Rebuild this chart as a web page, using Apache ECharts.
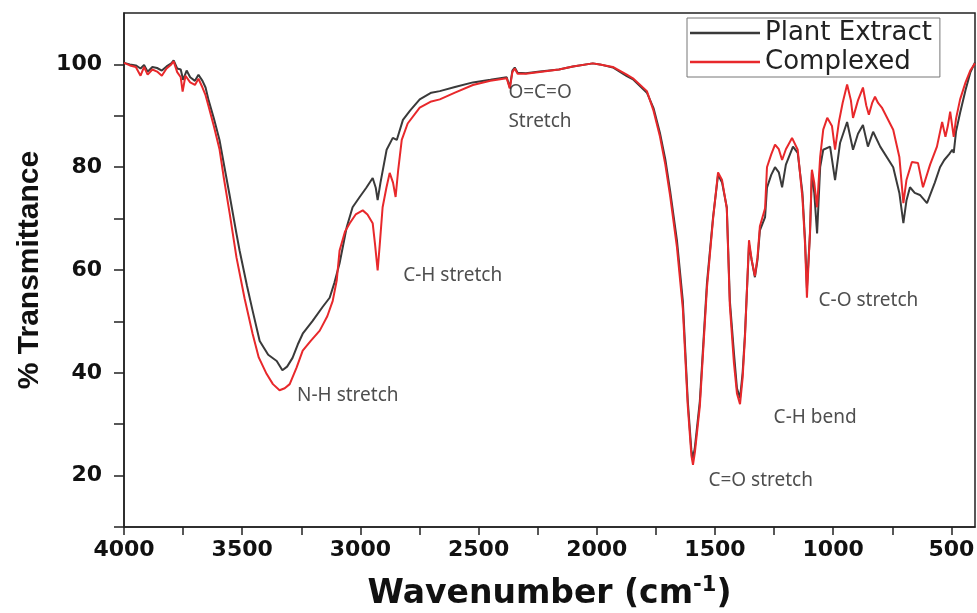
<!DOCTYPE html>
<html>
<head>
<meta charset="utf-8">
<script src="https://cdn.jsdelivr.net/npm/echarts@6/dist/echarts.min.js"></script>
<style>
  html, body { margin: 0; padding: 0; background: #fff; }
  #FtirChart { width: 977px; height: 613px; }
</style>
</head>
<body>
<div id="FtirChart"></div>
<script>
// Plant Extract (black trace)
const plantWn = [4000, 3975, 3950, 3930, 3915, 3900, 3880, 3860, 3840, 3820, 3800, 3790, 3775, 3760, 3750, 3735, 3720, 3700, 3685, 3668,
  3655, 3642, 3620, 3596, 3575, 3553, 3524, 3511, 3480, 3456, 3426, 3390, 3354, 3330, 3310, 3287, 3265, 3244, 3202, 3160,
  3130, 3110, 3088, 3070, 3058, 3033, 3003, 2975, 2948, 2935, 2927, 2915, 2889, 2863, 2846, 2820, 2790, 2749, 2700, 2664,
  2600, 2524, 2450, 2381, 2368, 2357, 2347, 2335, 2300, 2241, 2160, 2101, 2017, 1987, 1932, 1873, 1847, 1788, 1760, 1733,
  1710, 1690, 1661, 1636, 1615, 1600, 1593, 1585, 1564, 1534, 1508, 1487, 1470, 1450, 1437, 1420, 1407, 1394, 1383, 1373,
  1356, 1345, 1331, 1320, 1310, 1288, 1280, 1262, 1246, 1230, 1216, 1200, 1170, 1150, 1130, 1119, 1111, 1098, 1090, 1080,
  1068, 1055, 1042, 1013, 992, 971, 941, 916, 895, 874, 853, 831, 801, 746, 720, 703, 690, 675, 655, 633,
  603, 570, 548, 530, 510, 496, 490, 480, 463, 440, 420, 400];
const plantT = [100.3, 100.0, 99.8, 99.2, 99.9, 98.6, 99.5, 99.3, 98.8, 99.6, 100.2, 100.8, 99.2, 99.0, 97.0, 98.8, 97.5, 96.8, 98.0, 96.8,
  95.5, 93.0, 89.5, 85.3, 80.0, 74.5, 67.0, 63.8, 57.0, 52.1, 46.2, 43.5, 42.3, 40.5, 41.2, 42.9, 45.5, 47.6, 50.1, 52.8,
  54.6, 57.5, 61.3, 65.5, 68.3, 72.2, 74.2, 76.0, 77.9, 76.0, 73.6, 77.0, 83.4, 85.7, 85.3, 89.2, 91.0, 93.2, 94.5, 94.8,
  95.6, 96.5, 97.0, 97.5, 95.5, 98.8, 99.4, 98.4, 98.3, 98.6, 99.0, 99.6, 100.2, 100.0, 99.4, 97.7, 97.1, 94.5, 91.5, 86.7,
  81.5, 75.5, 65.8, 54.0, 34.5, 25.0, 23.4, 25.5, 34.5, 57.4, 70.3, 78.5, 77.0, 72.2, 54.0, 44.0, 37.0, 35.1, 40.0, 47.6,
  65.0, 62.0, 58.6, 62.0, 67.7, 70.3, 76.0, 78.5, 80.0, 79.0, 76.1, 80.5, 84.0, 82.8, 75.0, 65.8, 56.5, 67.1, 79.0, 75.0,
  67.1, 80.0, 83.4, 84.0, 77.5, 84.7, 88.8, 83.4, 86.5, 88.2, 84.0, 86.9, 84.0, 80.0, 75.0, 69.1, 73.5, 76.1, 75.0, 74.6,
  73.0, 77.0, 80.0, 81.4, 82.5, 83.4, 82.8, 87.0, 90.6, 95.0, 98.4, 100.4];

// Complexed (red trace)
const complexWn = [4000, 3975, 3950, 3930, 3915, 3900, 3880, 3860, 3840, 3820, 3800, 3790, 3775, 3760, 3752, 3740, 3720, 3700, 3685, 3668,
  3655, 3642, 3620, 3596, 3578, 3553, 3524, 3490, 3456, 3430, 3397, 3370, 3342, 3320, 3299, 3270, 3244, 3210, 3172, 3140,
  3117, 3100, 3088, 3065, 3045, 3020, 2990, 2970, 2948, 2938, 2927, 2918, 2906, 2890, 2876, 2862, 2851, 2840, 2825, 2800,
  2749, 2700, 2664, 2600, 2524, 2450, 2381, 2368, 2357, 2347, 2335, 2300, 2241, 2160, 2101, 2017, 1987, 1932, 1873, 1847,
  1788, 1760, 1733, 1710, 1690, 1661, 1636, 1615, 1600, 1593, 1585, 1564, 1534, 1508, 1487, 1470, 1450, 1437, 1420, 1407,
  1394, 1383, 1373, 1356, 1345, 1331, 1320, 1310, 1288, 1280, 1262, 1246, 1230, 1216, 1200, 1174, 1150, 1130, 1119, 1111,
  1098, 1090, 1080, 1068, 1055, 1042, 1025, 1005, 992, 975, 960, 941, 925, 916, 895, 874, 860, 849, 835, 823,
  810, 794, 746, 720, 703, 690, 667, 641, 620, 590, 561, 539, 525, 515, 505, 490, 480, 463, 440, 420, 400];
const complexT = [100.3, 99.8, 99.5, 97.8, 99.5, 98.0, 99.0, 98.6, 97.8, 99.2, 100.0, 100.6, 98.5, 97.5, 94.7, 97.8, 96.5, 96.0, 97.2, 95.5,
  94.0, 91.8, 88.0, 83.5, 78.0, 71.0, 62.4, 54.5, 47.6, 43.0, 39.8, 37.8, 36.6, 37.0, 37.8, 41.0, 44.3, 46.2, 48.2, 51.0,
  54.0, 58.0, 63.8, 67.5, 69.1, 70.8, 71.6, 70.8, 69.1, 65.0, 59.9, 65.0, 72.2, 76.0, 78.9, 77.0, 74.2, 79.5, 85.3, 88.5,
  91.6, 92.8, 93.2, 94.5, 96.0, 96.8, 97.3, 95.3, 98.5, 99.2, 98.2, 98.2, 98.5, 99.0, 99.6, 100.2, 100.0, 99.5, 98.0, 97.3,
  94.8, 91.0, 86.0, 80.5, 74.5, 64.5, 52.5, 33.5, 24.0, 22.1, 24.5, 33.5, 56.5, 70.0, 79.0, 77.5, 72.0, 53.0, 42.0, 36.0,
  33.9, 39.0, 47.0, 65.8, 62.0, 58.8, 62.5, 68.5, 72.0, 80.0, 82.5, 84.4, 83.5, 81.4, 83.5, 85.7, 83.4, 74.0, 65.0, 54.6,
  67.5, 79.5, 77.0, 72.2, 82.0, 87.3, 89.6, 88.0, 83.4, 89.0, 92.5, 96.1, 93.0, 89.6, 93.0, 95.5, 92.0, 90.2, 92.5, 93.7,
  92.5, 91.6, 87.3, 82.0, 73.0, 77.5, 81.0, 80.8, 76.1, 80.5, 84.0, 88.8, 85.9, 88.0, 90.8, 85.9, 89.5, 93.2, 96.5, 98.8, 100.2];

// axis ticks
const xLabelValues = [4000, 3500, 3000, 2500, 2000, 1500, 1000, 500];
const xTickValues = [4000, 3750, 3500, 3250, 3000, 2750, 2500, 2250, 2000, 1750, 1500, 1250, 1000, 750, 500];
const yLabelValues = [20, 40, 60, 80, 100];
const yTickValues = [10, 20, 30, 40, 50, 60, 70, 80, 90, 100];

// band assignments (text starts at wavenumber, centred on %T)
const annoText = ['N-H stretch', 'C-H stretch', 'O=C=O\nStretch', 'C=O stretch', 'C-H bend', 'C-O stretch'];
const annoWn = [3270, 2821, 2376, 1530, 1254, 1064];
const annoT = [35.5, 58.9, 91.7, 19.0, 31.3, 54.0];

const toPairs = (xs, ys) => xs.map((x, i) => [x, ys[i]]);

const chartDom = document.getElementById('FtirChart');
const myChart = echarts.init(chartDom, null, { renderer: 'canvas' });

const tickFont = 'DejaVu Sans';
const titleFont = 'Liberation Sans';

const option = {
  animation: false,
  backgroundColor: '#fff',
  grid: {
    left: 124,
    right: 2,
    top: 13,
    bottom: 86,
    containLabel: false,
    outerBoundsMode: 'none',
    show: true,
    borderColor: '#222',
    borderWidth: 1.5,
    backgroundColor: 'transparent'
  },
  legend: {
    data: ['Plant Extract', 'Complexed'],
    orient: 'vertical',
    left: 687,
    top: 18,
    icon: 'rect',
    itemWidth: 70,
    itemHeight: 2.5,
    itemGap: 3,
    padding: [2, 8, 2, 3],
    borderColor: '#777',
    borderWidth: 1,
    backgroundColor: '#fff',
    textStyle: { fontFamily: 'DejaVu Sans', fontSize: 26, color: '#222' }
  },
  xAxis: {
    type: 'value',
    min: 400,
    max: 4000,
    inverse: true,
    name: 'Wavenumber (cm{sup|-1})',
    nameLocation: 'middle',
    nameGap: 48,
    nameTextStyle: {
      fontFamily: tickFont,
      fontWeight: 'bold',
      fontSize: 33,
      color: '#111',
      rich: {
        sup: { fontFamily: tickFont, fontWeight: 'bold', fontSize: 21, color: '#111', verticalAlign: 'top', padding: [0, 0, 18, 0] }
      }
    },
    axisLine: { show: true, lineStyle: { color: '#222', width: 1.5 } },
    axisTick: { show: true, length: 8, customValues: xTickValues, lineStyle: { color: '#222', width: 1.5 } },
    axisLabel: {
      customValues: xLabelValues,
      formatter: (v) => String(v),
      margin: 12,
      fontFamily: tickFont,
      fontWeight: 'bold',
      fontSize: 22,
      color: '#111'
    },
    splitLine: { show: false }
  },
  yAxis: {
    type: 'value',
    min: 10,
    max: 110,
    name: '% Transmittance',
    nameLocation: 'middle',
    nameGap: 78,
    nameTextStyle: { fontFamily: titleFont, fontWeight: 'bold', fontSize: 30, color: '#111' },
    axisLine: { show: true, lineStyle: { color: '#222', width: 1.5 } },
    axisTick: { show: true, length: 10, customValues: yTickValues, lineStyle: { color: '#222', width: 1.5 } },
    axisLabel: {
      customValues: yLabelValues,
      formatter: (v) => String(v),
      margin: 22,
      fontFamily: tickFont,
      fontWeight: 'bold',
      fontSize: 22,
      color: '#111'
    },
    splitLine: { show: false }
  },
  series: [
    {
      name: 'Plant Extract',
      type: 'line',
      data: toPairs(plantWn, plantT),
      showSymbol: false,
      color: '#3a3a3a',
      lineStyle: { color: '#3a3a3a', width: 2 },
      z: 2
    },
    {
      name: 'Complexed',
      type: 'line',
      data: toPairs(complexWn, complexT),
      showSymbol: false,
      color: '#e8282b',
      lineStyle: { color: '#e8282b', width: 2 },
      z: 3
    },
    {
      name: 'bands',
      type: 'scatter',
      data: toPairs(annoWn, annoT),
      symbolSize: 1,
      itemStyle: { color: 'rgba(0,0,0,0)' },
      silent: true,
      z: 5,
      label: {
        show: true,
        position: 'right',
        distance: 0,
        formatter: (p) => annoText[p.dataIndex],
        fontFamily: 'Noto Sans',
        fontSize: 19,
        lineHeight: 29,
        color: '#222',
        align: 'left'
      }
    }
  ]
};

myChart.setOption(option);
</script>
</body>
</html>
